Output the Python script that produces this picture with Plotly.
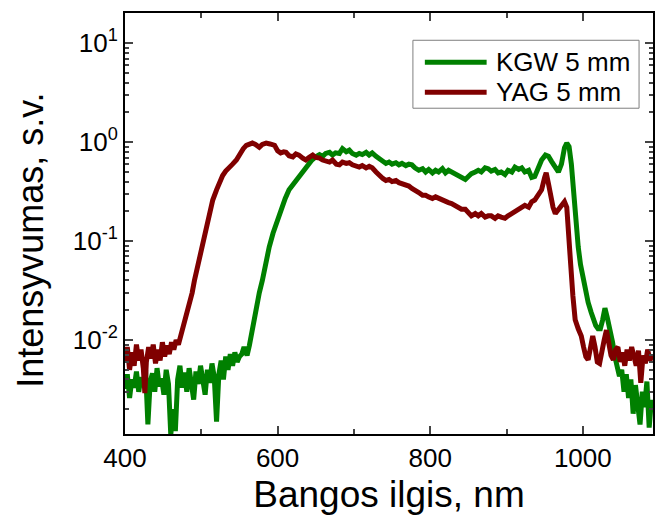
import plotly.graph_objects as go

# KGW 5 mm (green)
kgw_nm = [400, 403, 406, 409, 412, 415, 418, 421, 424, 427, 430, 433, 436, 439, 442, 445, 448, 451, 454, 457,
          460, 463, 466, 469, 472, 475, 478, 481, 484, 487, 490, 493, 496, 499, 502, 505, 508, 511, 514, 517,
          520, 523, 526, 529, 532, 535, 538, 541, 544, 547, 550, 553, 556, 560, 563, 566, 569, 572, 576, 580,
          584, 589, 594, 598, 602, 606, 610, 615, 620, 624, 628, 633, 637, 641, 645, 650, 655, 659, 663, 668,
          672, 676, 681, 685, 690, 694, 698, 703, 707, 711, 716, 720, 724, 729, 733, 738, 742, 746, 750, 755,
          759, 763, 768, 772, 776, 780, 785, 790, 794, 798, 803, 807, 811, 816, 820, 824, 828, 833, 837, 841,
          846, 850, 854, 859, 863, 867, 872, 876, 880, 885, 889, 893, 898, 902, 907, 911, 916, 920, 924, 929,
          933, 937, 942, 946, 951, 955, 959, 964, 968, 972, 976, 979, 982, 985, 988, 990, 992, 994, 997, 1001,
          1004, 1007, 1011, 1014, 1017, 1020, 1023, 1026, 1029, 1032, 1036, 1039, 1042, 1045, 1048, 1051, 1054, 1057, 1060, 1063,
          1066, 1069, 1072, 1075, 1078, 1081, 1084, 1087, 1090]
kgw_val = [0.0032, 0.0045, 0.0026, 0.0040, 0.0033, 0.0048, 0.0030, 0.0042, 0.0035, 0.0050, 0.0014, 0.0038, 0.0046, 0.0030, 0.0052, 0.0034, 0.0041, 0.0028, 0.0050, 0.0036,
           0.0011, 0.0020, 0.0012, 0.0040, 0.0055, 0.0033, 0.0047, 0.0030, 0.0052, 0.0038, 0.0025, 0.0048, 0.0036, 0.0055, 0.0040, 0.0028, 0.0050, 0.0037, 0.0058, 0.0042,
           0.0015, 0.0045, 0.0062, 0.0040, 0.0068, 0.0050, 0.0072, 0.0055, 0.0075, 0.0060, 0.0068, 0.0072, 0.0085, 0.0070, 0.0088, 0.012, 0.016, 0.021, 0.030, 0.040,
           0.058, 0.087, 0.12, 0.15, 0.19, 0.22, 0.27, 0.33, 0.37, 0.41, 0.46, 0.52, 0.57, 0.61, 0.66, 0.71, 0.75, 0.72, 0.77, 0.79,
           0.74, 0.78, 0.77, 0.86, 0.80, 0.83, 0.77, 0.74, 0.77, 0.75, 0.79, 0.74, 0.78, 0.72, 0.69, 0.65, 0.61, 0.63, 0.60, 0.62,
           0.59, 0.61, 0.58, 0.60, 0.59, 0.55, 0.52, 0.54, 0.50, 0.53, 0.49, 0.52, 0.50, 0.54, 0.49, 0.52, 0.50, 0.47, 0.45, 0.44,
           0.42, 0.45, 0.48, 0.50, 0.52, 0.50, 0.55, 0.54, 0.51, 0.53, 0.49, 0.50, 0.47, 0.52, 0.50, 0.56, 0.53, 0.55, 0.50, 0.52,
           0.44, 0.45, 0.55, 0.66, 0.74, 0.72, 0.64, 0.55, 0.50, 0.60, 0.88, 0.98, 0.90, 0.60, 0.30, 0.19, 0.13, 0.087, 0.058, 0.038,
           0.030, 0.024, 0.019, 0.016, 0.014, 0.013, 0.013, 0.016, 0.021, 0.017, 0.0126, 0.0095, 0.0068, 0.0052, 0.0043, 0.0050, 0.0030, 0.0045, 0.0026, 0.0040,
           0.0018, 0.0035, 0.0024, 0.0014, 0.0030, 0.0021, 0.0038, 0.0013, 0.0025]

# YAG 5 mm (dark red)
yag_nm = [400, 403, 406, 409, 412, 415, 418, 421, 424, 426, 428, 431, 434, 437, 440, 443, 446, 449, 452, 455,
          458, 461, 464, 467, 470, 473, 476, 479, 482, 485, 488, 491, 494, 498, 502, 506, 511, 515, 520, 524,
          528, 532, 537, 541, 546, 550, 555, 559, 563, 567, 571, 576, 580, 585, 590, 596, 600, 604, 608, 611,
          615, 620, 624, 628, 633, 637, 641, 646, 650, 655, 659, 663, 668, 672, 677, 681, 685, 690, 694, 698,
          703, 707, 711, 716, 720, 724, 729, 733, 738, 742, 746, 750, 755, 759, 763, 768, 772, 776, 780, 785,
          790, 794, 798, 803, 807, 811, 816, 820, 824, 828, 833, 837, 841, 846, 850, 854, 859, 863, 867, 872,
          876, 880, 885, 889, 893, 898, 902, 907, 911, 916, 920, 924, 929, 933, 937, 942, 946, 950, 952, 955,
          958, 961, 964, 968, 972, 976, 979, 982, 984, 987, 990, 994, 998, 1001, 1004, 1007, 1010, 1013, 1016, 1019,
          1022, 1025, 1028, 1031, 1034, 1037, 1040, 1043, 1046, 1049, 1052, 1055, 1058, 1061, 1064, 1067, 1070, 1073, 1076, 1079,
          1082, 1085, 1088, 1091]
yag_val = [0.0060, 0.0085, 0.0050, 0.0075, 0.0055, 0.0090, 0.0062, 0.0080, 0.0052, 0.0029, 0.0060, 0.0085, 0.0065, 0.0090, 0.0058, 0.0080, 0.0062, 0.0095, 0.0068, 0.0088,
           0.0072, 0.0095, 0.0080, 0.0100, 0.0090, 0.011, 0.013, 0.015, 0.018, 0.022, 0.030, 0.040, 0.051, 0.075, 0.10, 0.14, 0.19, 0.26, 0.33, 0.40,
           0.46, 0.51, 0.55, 0.60, 0.66, 0.75, 0.86, 0.93, 0.97, 0.98, 0.95, 0.89, 0.95, 0.98, 0.96, 0.93, 0.82, 0.78, 0.80, 0.79,
           0.73, 0.71, 0.76, 0.74, 0.69, 0.66, 0.70, 0.74, 0.70, 0.69, 0.66, 0.64, 0.63, 0.66, 0.60, 0.59, 0.63, 0.61, 0.62, 0.59,
           0.57, 0.56, 0.58, 0.55, 0.57, 0.55, 0.50, 0.46, 0.43, 0.41, 0.42, 0.40, 0.41, 0.39, 0.38, 0.37, 0.36, 0.34, 0.33, 0.31,
           0.29, 0.29, 0.28, 0.27, 0.28, 0.27, 0.26, 0.25, 0.245, 0.24, 0.23, 0.22, 0.21, 0.21, 0.19, 0.18, 0.19, 0.18, 0.19, 0.175,
           0.18, 0.18, 0.17, 0.18, 0.175, 0.17, 0.18, 0.19, 0.20, 0.21, 0.22, 0.23, 0.22, 0.25, 0.26, 0.29, 0.33, 0.44, 0.49, 0.38,
           0.28, 0.22, 0.19, 0.21, 0.23, 0.25, 0.22, 0.12, 0.06, 0.028, 0.016, 0.013, 0.011, 0.0085, 0.0068, 0.0063, 0.0090, 0.0110, 0.0085, 0.0060,
           0.0058, 0.0080, 0.0100, 0.0126, 0.0090, 0.0070, 0.0063, 0.0080, 0.0085, 0.0060, 0.0075, 0.0055, 0.0080, 0.0062, 0.0085, 0.0068, 0.0055, 0.0078, 0.0037, 0.0070,
           0.0058, 0.0080, 0.0062, 0.0072]

ytick_vals = [0.01, 0.1, 1, 10]
ytick_text = ["10<sup>-2</sup>", "10<sup>-1</sup>", "10<sup>0</sup>", "10<sup>1</sup>"]
xtick_vals = [400, 600, 800, 1000]

series = [("KGW 5 mm", kgw_nm, kgw_val, "#008000"),
          ("YAG 5 mm", yag_nm, yag_val, "#800000")]

font = "Liberation Sans, Arial, sans-serif"

fig = go.Figure()
for name, xs, ys, color in series:
    fig.add_trace(go.Scatter(x=xs, y=ys, mode="lines", name=name, showlegend=False,
                             line=dict(color=color, width=5)))

fig.update_xaxes(range=[400, 1092], tickvals=xtick_vals, ticks="inside", ticklen=8, tickwidth=2,
                 minor=dict(ticks="inside", ticklen=5, tickwidth=2, dtick=100, tick0=400),
                 showline=True, linewidth=2, linecolor="black", mirror="ticks", showgrid=False,
                 zeroline=False, tickfont=dict(size=26, color="black"),
                 title=dict(text="Bangos ilgis, nm", font=dict(size=37, color="black"), standoff=9))
fig.update_yaxes(type="log", range=[-2.95, 1.306], tickvals=ytick_vals, ticktext=ytick_text,
                 ticks="inside", ticklen=8, tickwidth=2,
                 minor=dict(ticks="inside", ticklen=4, tickwidth=1.5, dtick="D1"),
                 showline=True, linewidth=2, linecolor="black", mirror="ticks", showgrid=False,
                 tickfont=dict(size=26, color="black"))

# y title as a rotated annotation (sits a bit below the axis centre in the original)
fig.add_annotation(text="Intensyvumas, s.v.", textangle=-90, xref="paper", yref="paper",
                   x=-0.179, y=0.46, xanchor="center", yanchor="middle", showarrow=False,
                   font=dict(size=36, color="black"))

# legend box drawn by hand
fig.add_shape(type="rect", xref="paper", yref="paper", x0=0.5453, x1=0.9736, y0=0.7738, y1=0.9352,
              line=dict(color="#7f7f7f", width=1), fillcolor="white", layer="above")
for (name, xs, ys, color), ly in zip(series, [0.8828, 0.8118]):
    fig.add_shape(type="line", xref="paper", yref="paper", x0=0.5679, x1=0.6849, y0=ly, y1=ly,
                  line=dict(color=color, width=5), layer="above")
    fig.add_annotation(text=name, xref="paper", yref="paper", x=0.6981, y=ly, xanchor="left",
                       yanchor="middle", showarrow=False, font=dict(size=26, color="black"))

fig.update_layout(width=656, height=518, margin=dict(l=125, r=1, t=13, b=84),
                  plot_bgcolor="white", paper_bgcolor="white",
                  font=dict(family=font, color="black"))

fig.write_html("out.html", config={"displayModeBar": False},
               post_script="document.body.style.margin='0';document.body.style.overflow='hidden';")
